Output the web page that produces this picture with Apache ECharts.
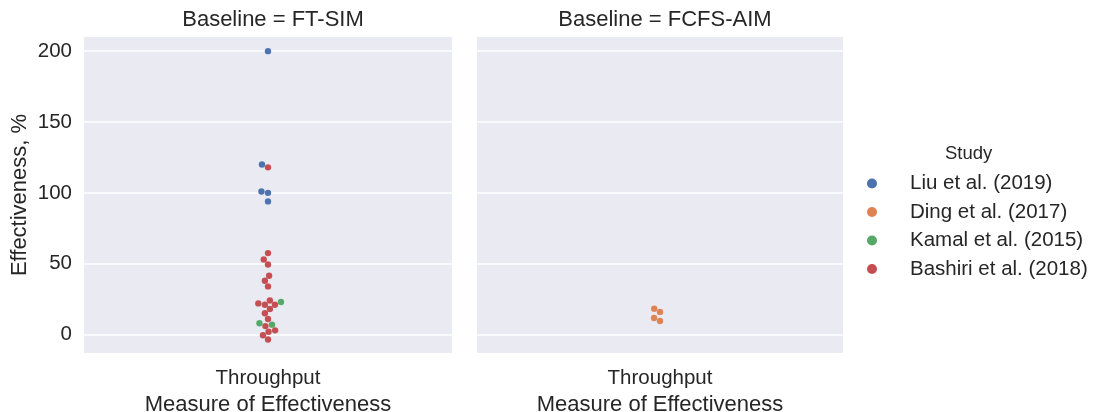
<!DOCTYPE html>
<html>
<head>
<meta charset="utf-8">
<script src="https://cdn.jsdelivr.net/npm/echarts@6/dist/echarts.min.js"></script>
<style>
  html, body { margin: 0; padding: 0; background: #ffffff; }
  #chart { width: 1095px; height: 412px; }
</style>
</head>
<body>
<div id="chart"></div>
<script>
// Panels and categories
const panelTitles = ['Baseline = FT-SIM', 'Baseline = FCFS-AIM'];
const categories = ['Throughput'];
const studies = ['Liu et al. (2019)', 'Ding et al. (2017)', 'Kamal et al. (2015)', 'Bashiri et al. (2018)'];
const studyColors = ['#4c72b0', '#dd8452', '#55a868', '#c44e52'];

// Effectiveness (%) per study, baseline FT-SIM
const liuFtSim = [200, 120, 101, 100, 94];
const kamalFtSim = [23, 8, 7];
const bashiriFtSim = [118, 57.5, 53, 49.5, 41.5, 38, 34, 24, 22, 21, 21, 18, 15, 11, 6, 3, 2, -0.5, -3.5];
// Effectiveness (%) per study, baseline FCFS-AIM
const dingFcfsAim = [18.3, 16, 11.7, 9.6];

const yTicks = [0, 50, 100, 150, 200];
const yMin = -13, yMax = 210;

// Layout of the two facet panels (pixels)
const gridTop = 37, gridBottom = 59;
const grids = [
  { left: 84, right: 643, top: gridTop, bottom: gridBottom },
  { left: 477, right: 252, top: gridTop, bottom: gridBottom }
];
const chartH = 412;
const pxPerUnit = (chartH - gridTop - gridBottom) / (yMax - yMin);
const markerR = 3.2;

// panel -> list of {study index, values}
const panels = [
  [{ s: 0, v: liuFtSim }, { s: 2, v: kamalFtSim }, { s: 3, v: bashiriFtSim }],
  [{ s: 1, v: dingFcfsAim }]
];

// Beeswarm layout: points sorted by value, each placed at the candidate
// position closest to the centre line that does not overlap earlier points.
function beeswarm(points) {
  const sorted = points.slice().sort((a, b) => a.y - b.y);
  const placed = [];
  const dr = 2 * markerR;
  sorted.forEach((p, idx) => {
    if (idx === 0) { p.x = 0; placed.push(p); return; }
    const neighbors = [];
    for (let j = placed.length - 1; j >= 0; j--) {
      if (p.y - placed[j].y < dr) neighbors.push(placed[j]); else break;
    }
    const cands = [0];
    neighbors.forEach(n => {
      const dy = p.y - n.y;
      const dx = Math.sqrt(Math.max(dr * dr - dy * dy, 0)) * 1.05;
      cands.push(n.x - dx, n.x + dx);
    });
    const order = cands.map((c, i) => i).sort((a, b) => {
      const d = Math.abs(cands[a]) - Math.abs(cands[b]);
      return d !== 0 ? d : a - b;
    });
    let chosen = cands[order[0]];
    for (const k of order) {
      const cx = cands[k];
      const ok = neighbors.every(n => {
        const dx = cx - n.x, dy = p.y - n.y;
        return dx * dx + dy * dy - dr * dr >= -1e-6;
      });
      if (ok) { chosen = cx; break; }
    }
    p.x = chosen;
    placed.push(p);
  });
  return placed;
}

const series = [];
panels.forEach((groups, gi) => {
  const pts = [];
  groups.forEach(g => g.v.forEach(val => pts.push({ s: g.s, val: val, y: val * pxPerUnit })));
  beeswarm(pts);
  groups.forEach(g => {
    series.push({
      name: studies[g.s],
      type: 'custom',
      xAxisIndex: gi,
      yAxisIndex: gi,
      itemStyle: { color: studyColors[g.s] },
      encode: { x: 0, y: 1 },
      data: pts.filter(p => p.s === g.s).map(p => [0, p.val, p.x]),
      renderItem: function (params, api) {
        const c = api.coord([api.value(0), api.value(1)]);
        return {
          type: 'circle',
          shape: { cx: c[0] + api.value(2), cy: c[1], r: markerR },
          style: { fill: studyColors[g.s], stroke: 'rgba(255,255,255,0.15)', lineWidth: 0.3 }
        };
      },
      z: 3
    });
  });
});

const textColor = '#262626';
const font = 'Liberation Sans, Arial, sans-serif';
const tickSize = 20.5, labelSize = 22;

const xAxes = grids.map((g, i) => ({
  type: 'category',
  gridIndex: i,
  data: categories,
  boundaryGap: true,
  axisLine: { show: false },
  axisTick: { show: false },
  splitLine: { show: false },
  axisLabel: { color: textColor, fontSize: tickSize, fontFamily: font, margin: 15 },
  name: 'Measure of Effectiveness',
  nameLocation: 'middle',
  nameGap: 37,
  nameTextStyle: { color: textColor, fontSize: labelSize, fontFamily: font }
}));

const yAxes = grids.map((g, i) => ({
  type: 'value',
  gridIndex: i,
  min: yMin,
  max: yMax,
  axisLine: { show: false },
  axisTick: { show: false, customValues: yTicks },
  axisLabel: { show: i === 0, customValues: yTicks, color: textColor, fontSize: tickSize, fontFamily: font, margin: 12 },
  splitLine: { show: true, lineStyle: { color: '#ffffff', width: 1.5 } },
  name: i === 0 ? 'Effectiveness, %' : '',
  nameLocation: 'middle',
  nameRotate: 90,
  nameGap: 53,
  nameTextStyle: { color: textColor, fontSize: labelSize, fontFamily: font }
}));

const chart = echarts.init(document.getElementById('chart'), null, { renderer: 'canvas' });
chart.setOption({
  animation: false,
  backgroundColor: '#ffffff',
  title: panelTitles.map((t, i) => ({
    text: t,
    left: i === 0 ? 268 : 660,
    top: 4,
    textAlign: 'center',
    textStyle: { color: textColor, fontSize: labelSize, fontWeight: 'normal', fontFamily: font }
  })),
  grid: grids.map(g => Object.assign({
    backgroundColor: '#eaeaf2', show: true, borderWidth: 0,
    containLabel: false, outerBoundsMode: 'none'
  }, g)),
  xAxis: xAxes,
  yAxis: yAxes,
  legend: {
    orient: 'vertical',
    left: 862,
    top: 168,
    itemWidth: 10,
    itemHeight: 10,
    itemGap: 7.5,
    icon: 'circle',
    data: studies,
    textStyle: { color: textColor, fontSize: tickSize, fontFamily: font, padding: [0, 0, 0, 28] }
  },
  graphic: [{
    type: 'text',
    left: 945,
    top: 144,
    style: { text: 'Study', fill: textColor, font: '18.5px ' + font }
  }],
  series: series
});
</script>
</body>
</html>
